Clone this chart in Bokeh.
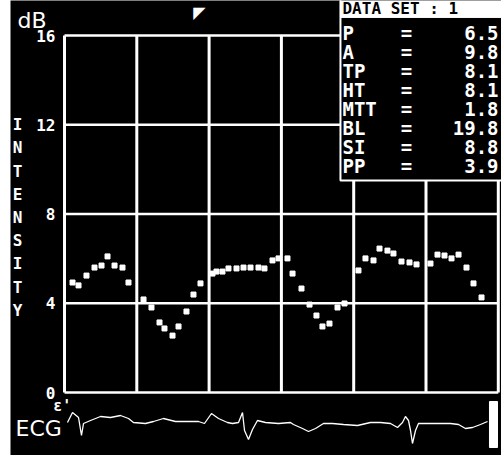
from bokeh.plotting import figure
from bokeh.models import Range1d
from bokeh.core.properties import value
from bokeh.embed import file_html
from bokeh.resources import INLINE

# ---------------- data ----------------
time_s = [0.111, 0.194, 0.304, 0.415, 0.512, 0.595, 0.692, 0.802, 0.885,
          1.093, 1.203, 1.314, 1.383, 1.494, 1.577, 1.687, 1.784, 1.881,
          2.047, 2.102, 2.185, 2.268, 2.379, 2.476, 2.573, 2.683, 2.766,
          2.877, 2.960, 3.084, 3.154, 3.278, 3.389, 3.485, 3.568, 3.665,
          3.776, 3.873, 4.066, 4.163, 4.274, 4.357, 4.467, 4.550, 4.661,
          4.772, 4.869, 5.062, 5.159, 5.256, 5.353, 5.450, 5.560, 5.657,
          5.768]
intensity_db = [4.93, 4.80, 5.24, 5.60, 5.69, 6.10, 5.69, 5.60, 4.93,
                4.17, 3.81, 3.14, 2.87, 2.55, 2.96, 3.63, 4.39, 4.89,
                5.33, 5.42, 5.42, 5.56, 5.56, 5.60, 5.60, 5.60, 5.56,
                5.92, 6.01, 6.01, 5.33, 4.66, 3.94, 3.45, 2.96, 3.09,
                3.81, 3.99, 5.47, 6.01, 5.92, 6.45, 6.36, 6.23, 5.87,
                5.83, 5.74, 5.78, 6.18, 6.14, 6.01, 6.18, 5.60, 4.89,
                4.26]

ecg_t = [0.041, 0.111, 0.194, 0.235, 0.263, 0.360, 0.498, 0.636, 0.775,
         0.885, 0.954, 1.120, 1.231, 1.369, 1.535, 1.674, 1.853, 1.936,
         2.033, 2.130, 2.254, 2.324, 2.407, 2.462, 2.490, 2.545, 2.600,
         2.669, 2.780, 2.960, 3.126, 3.167, 3.292, 3.375, 3.472, 3.582,
         3.707, 3.859, 4.053, 4.232, 4.371, 4.509, 4.606, 4.675, 4.716,
         4.758, 4.786, 4.813, 4.855, 4.896, 5.021, 5.159, 5.339, 5.450,
         5.546, 5.643, 5.754, 5.851]
ecg_mv = [0.1, 1.1, 0.6, -1.2, 0.0, 0.3, 0.7, 0.6, 0.8,
          0.5, 0.1, 0.0, 0.2, 0.5, 0.2, 0.2, 0.2, 0.0,
          1.0, 0.5, 0.1, 0.0, 0.1, 1.1, -0.7, -1.6, -0.6,
          0.3, 0.1, 0.0, 0.1, -0.1, -0.5, -0.8, -0.5, 0.0,
          0.0, -0.1, -0.2, 0.1, 0.1, 0.0, -0.4, 0.1, 0.7,
          0.3, -0.7, -2.0, -0.7, 0.0, 0.0, 0.0, 0.0, -0.1,
          -0.5, -0.4, -0.1, 0.2]
ecg_cal_t = [5.878, 5.989]
ecg_cal_mv = [-2.4, 2.2]

y_ticks = [0, 4, 8, 12, 16]
y_tick_labels = ["0", "4", "8", "12", "16"]
x_grid = [0, 1, 2, 3, 4, 5, 6]

param_names = ["P", "A", "TP", "HT", "MTT", "BL", "SI", "PP"]
param_values = ["6.5", "9.8", "8.1", "8.1", "1.8", "19.8", "8.8", "3.9"]
header_text = "DATA  SET  : 1"
y_label = "INTENSITY"
unit_label = "dB"
ecg_label = "ECG"

# ---------------- layout ----------------
X0, X1 = -0.7469, 6.0443
Y0, Y1 = -2.8235, 17.569
E0, E1 = -3.2, 42.3

p = figure(width=501, height=455, output_backend="svg", toolbar_location=None,
           x_range=Range1d(X0, X1), y_range=Range1d(Y0, Y1),
           min_border_left=10, min_border_right=0, min_border_top=0,
           min_border_bottom=0, background_fill_color="black",
           border_fill_color="white", outline_line_color=None)
p.extra_y_ranges = {"ecg": Range1d(E0, E1)}
p.xaxis.visible = False
p.yaxis.visible = False
p.grid.visible = False

mono = value("DejaVu Sans Mono")
xmin, xmax = min(x_grid), max(x_grid)
ymin, ymax = min(y_ticks), max(y_ticks)

# grid
p.segment(x0=x_grid, x1=x_grid, y0=[ymin] * len(x_grid), y1=[ymax] * len(x_grid),
          line_color="white", line_width=3)
p.segment(x0=[xmin] * len(y_ticks), x1=[xmax] * len(y_ticks), y0=y_ticks, y1=y_ticks,
          line_color="white", line_width=2.5)

# intensity samples
p.scatter(time_s, intensity_db, marker="square", size=5, color="white")

# ecg trace
p.line(ecg_t, ecg_mv, y_range_name="ecg", line_color="white", line_width=1.3)
p.quad(left=[ecg_cal_t[0]], right=[ecg_cal_t[1]], bottom=[ecg_cal_mv[0]],
       top=[ecg_cal_mv[1]], y_range_name="ecg", fill_color="white", line_color="white")
p.text(x=[-0.678], y=[-0.5], text=[ecg_label], y_range_name="ecg",
       text_color="white", text_font=value("DejaVu Sans"), text_font_size="22px",
       text_align="left", text_baseline="middle")

# y tick labels
p.text(x=[xmin] * len(y_ticks), y=y_ticks, text=y_tick_labels, x_offset=-9,
       text_color="white", text_font=mono, text_font_style="bold",
       text_font_size="16px", text_align="right", text_baseline="middle")
p.text(x=[-0.03], y=[-0.6], text=["ε'"], text_color="white",
       text_font=mono, text_font_style="bold", text_font_size="15px",
       text_align="center", text_baseline="middle")

# unit and axis title
p.text(x=[-0.650], y=[16.67], text=[unit_label], text_color="white",
       text_font=value("DejaVu Sans"), text_font_size="22px",
       text_align="left", text_baseline="middle")
p.text(x=[-0.650], y=[7.843], text=["\n".join(y_label)], text_color="white",
       text_font=mono, text_font_style="bold", text_font_size="16px",
       text_line_height=1.22, text_align="center", text_baseline="middle")

# cursor
p.text(x=[1.867], y=[17.03], text=["◤"], text_color="white",
       text_font=value("DejaVu Sans"), text_font_size="16px",
       text_align="center", text_baseline="middle")

# parameter box
bx0, by0 = 3.817, 9.50
p.quad(left=[bx0], right=[X1 + 1], bottom=[by0], top=[Y1 + 1],
       fill_color="black", line_color="white", line_width=2)
p.quad(left=[bx0], right=[X1 + 1], bottom=[16.81], top=[Y1 + 1],
       fill_color="white", line_color="white")
p.text(x=[3.845], y=[17.19], text=[header_text], text_color="black",
       text_font=mono, text_font_style="bold", text_font_size="16px",
       text_align="left", text_baseline="middle")
row_y = [16.09 - i * 0.847 for i in range(len(param_names))]
p.text(x=[3.845] * len(param_names), y=row_y, text=param_names,
       text_color="white", text_font=mono, text_font_style="bold",
       text_font_size="19px", text_align="left", text_baseline="middle")
p.text(x=[4.730] * len(param_names), y=row_y, text=["="] * len(param_names),
       text_color="white", text_font=mono, text_font_style="bold",
       text_font_size="19px", text_align="center", text_baseline="middle")
p.text(x=[6.003] * len(param_names), y=row_y, text=param_values,
       text_color="white", text_font=mono, text_font_style="bold",
       text_font_size="19px", text_align="right", text_baseline="middle")

open("out.html", "w").write(file_html(p, INLINE))
